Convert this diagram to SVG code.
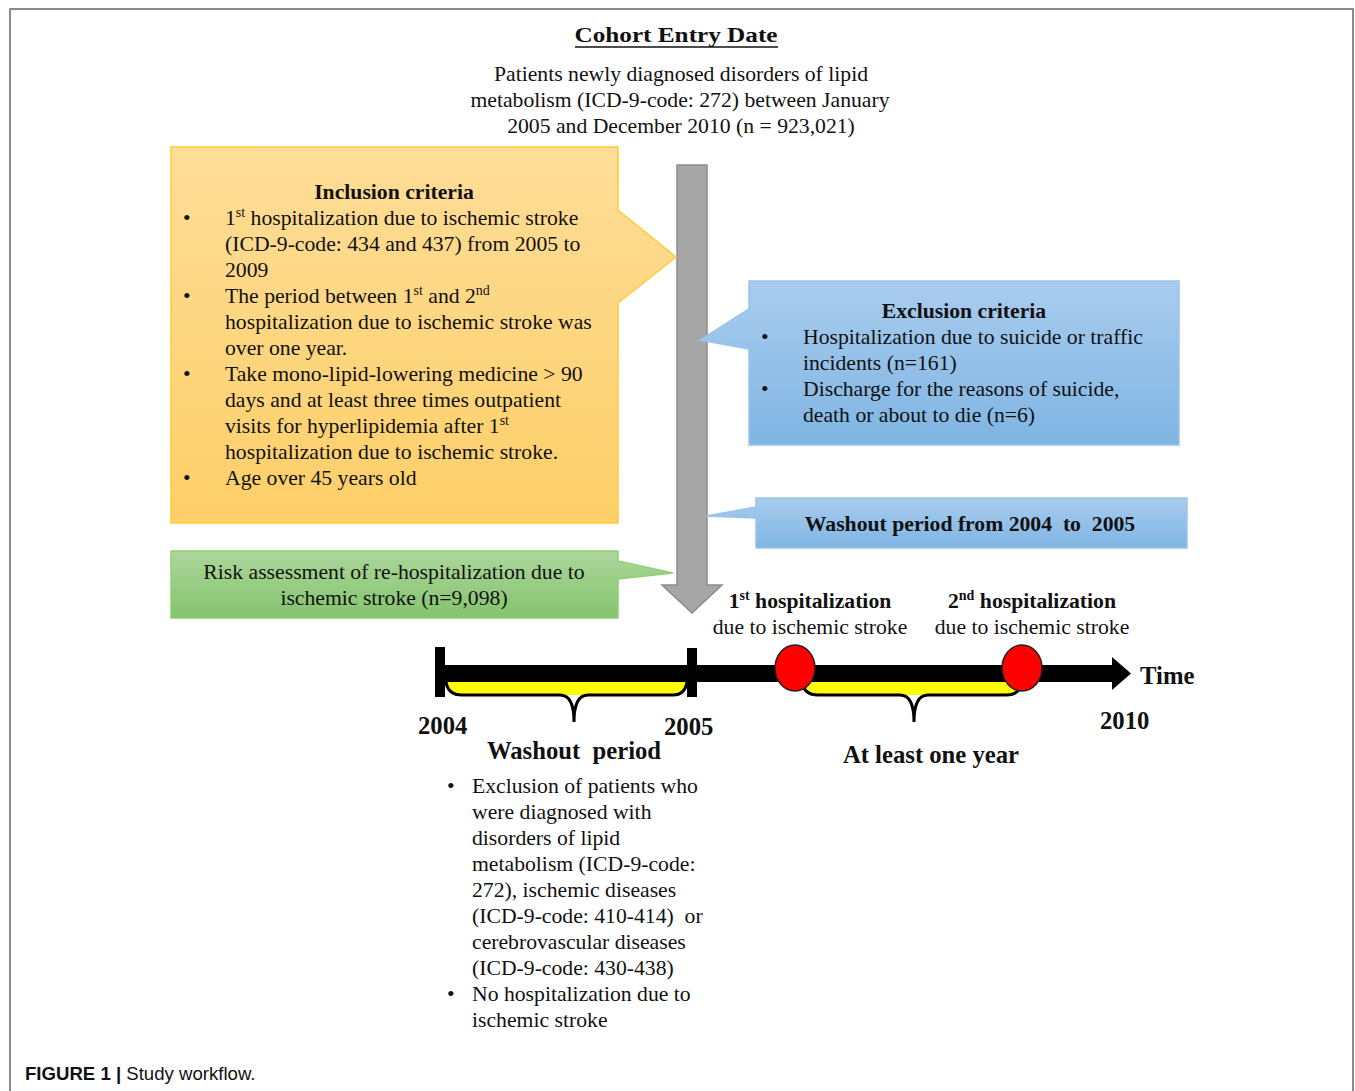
<svg xmlns="http://www.w3.org/2000/svg" width="1355" height="1091" viewBox="0 0 1355 1091">
<style>
text{font-family:"Liberation Serif","Times New Roman",serif;font-size:21.7px;fill:#111}
.b{font-weight:bold}
.c{text-anchor:middle}
.t{font-size:24.7px;font-weight:bold}
.sup{font-size:14px}
.cap{font-family:"Liberation Sans",Arial,sans-serif;font-size:18.6px}
</style>
<defs>
<linearGradient id="gO" x1="0" y1="0" x2="0" y2="1"><stop offset="0" stop-color="#fedd98"/><stop offset="1" stop-color="#fdcf68"/></linearGradient>
<linearGradient id="gB" x1="0" y1="0" x2="0" y2="1"><stop offset="0" stop-color="#a9ccee"/><stop offset="1" stop-color="#7fb5e3"/></linearGradient>
<linearGradient id="gG" x1="0" y1="0" x2="0" y2="1"><stop offset="0" stop-color="#acd69c"/><stop offset="1" stop-color="#84c46c"/></linearGradient>
</defs>
<rect width="1355" height="1091" fill="#ffffff"/>
<path d="M10,1091 V9 H1353 V1091" fill="none" stroke="#666" stroke-width="1.5"/>

<g id="title">
<text class="c b" x="676" y="42" font-size="26.5" textLength="203" lengthAdjust="spacingAndGlyphs">Cohort Entry Date</text>
<line x1="575" y1="47" x2="778" y2="47" stroke="#111" stroke-width="1.5"/>
<text class="c" x="681" y="81">Patients newly diagnosed disorders of lipid</text>
<text class="c" x="680" y="107">metabolism (ICD-9-code: 272) between January</text>
<text class="c" x="681" y="133">2005 and December 2010 (n = 923,021)</text>
</g>

<g id="connectors">
<path d="M677,165 H707 V585 H722 L692,613 L662,585 H677 Z" fill="#a6a6a6" stroke="#8c8c8c" stroke-width="1.5"/>
</g>

<g id="inclusion">
<path d="M171,147 H618 V210 L676,257 L618,303 V523 H171 Z" fill="url(#gO)" stroke="#ffcc33" stroke-width="1.5"/>
<text class="c b" x="394" y="199">Inclusion criteria</text>
<text x="183" y="225">•</text>
<text x="225" y="225">1<tspan class="sup" dy="-8">st</tspan><tspan dy="8"> hospitalization due to ischemic stroke</tspan></text>
<text x="225" y="251">(ICD-9-code: 434 and 437) from 2005 to</text>
<text x="225" y="277">2009</text>
<text x="183" y="303">•</text>
<text x="225" y="303">The period between 1<tspan class="sup" dy="-8">st</tspan><tspan dy="8"> and 2</tspan><tspan class="sup" dy="-8">nd</tspan></text>
<text x="225" y="329">hospitalization due to ischemic stroke was</text>
<text x="225" y="355">over one year.</text>
<text x="183" y="381">•</text>
<text x="225" y="381">Take mono-lipid-lowering medicine &gt; 90</text>
<text x="225" y="407">days and at least three times outpatient</text>
<text x="225" y="433">visits for hyperlipidemia after 1<tspan class="sup" dy="-8">st</tspan></text>
<text x="225" y="459">hospitalization due to ischemic stroke.</text>
<text x="183" y="485">•</text>
<text x="225" y="485">Age over 45 years old</text>
</g>

<g id="exclusion">
<path d="M749,281 H1179 V445 H749 V349 L700,340 L749,309 Z" fill="url(#gB)" stroke="#9cc3e8" stroke-width="1.5"/>
<text class="c b" x="964" y="318">Exclusion criteria</text>
<text x="761" y="344">•</text>
<text x="803" y="344">Hospitalization  due to suicide or traffic</text>
<text x="803" y="370">incidents (n=161)</text>
<text x="761" y="396">•</text>
<text x="803" y="396">Discharge for the reasons of suicide,</text>
<text x="803" y="422">death or about to die (n=6)</text>
</g>

<g id="washout-box">
<path d="M756,498 H1187 V548 H756 V518 L706,516 L756,507 Z" fill="url(#gB)" stroke="#9cc3e8" stroke-width="1.5"/>
<text class="c b" x="970" y="531" font-size="22.5" xml:space="preserve">Washout period from 2004  to  2005</text>
</g>

<g id="risk">
<path d="M171,551 H618 V561 L673,573 L618,579 V618 H171 Z" fill="url(#gG)" stroke="#90cf74" stroke-width="1.5"/>
<text class="c" x="394" y="579">Risk assessment of re-hospitalization due to</text>
<text class="c" x="394" y="605">ischemic stroke (n=9,098)</text>
</g>

<g id="timeline">
<path d="M446,682 Q448,695 462,695 H673 Q685,695 687,682 Z" fill="#ffff00"/>
<path d="M446,682 Q448,695 462,695 H560 Q574,695 574,722 M574,722 Q574,695 588,695 H673 Q685,695 687,682" fill="none" stroke="#000" stroke-width="3"/>
<path d="M802,682 Q804,695 818,695 H1006 Q1020,695 1022,682 Z" fill="#ffff00"/>
<path d="M802,682 Q804,695 818,695 H900 Q914,695 914,722 M914,722 Q914,695 928,695 H1006 Q1020,695 1022,682" fill="none" stroke="#000" stroke-width="3"/>
<rect x="440" y="665" width="674" height="17" fill="#000"/>
<path d="M1112,657 L1131,673.5 L1112,690 Z" fill="#000"/>
<rect x="435" y="647" width="10" height="50" fill="#000"/>
<rect x="687" y="648" width="10" height="49" fill="#000"/>
<ellipse cx="795" cy="668" rx="20" ry="23" fill="#ff0000" stroke="#222" stroke-width="1.5"/>
<ellipse cx="1022" cy="668" rx="20" ry="23" fill="#ff0000" stroke="#222" stroke-width="1.5"/>
<text class="t" x="418" y="734">2004</text>
<text class="t" x="664" y="735">2005</text>
<text class="t" x="1100" y="729">2010</text>
<text class="t" x="1140" y="684">Time</text>
<text class="t c" x="574" y="759" xml:space="preserve">Washout  period</text>
<text class="t c" x="931" y="763">At least one year</text>
<text class="c b" x="810" y="608">1<tspan class="sup" dy="-8">st</tspan><tspan dy="8"> hospitalization</tspan></text>
<text class="c" x="810" y="634">due to ischemic stroke</text>
<text class="c b" x="1032" y="608">2<tspan class="sup" dy="-8">nd</tspan><tspan dy="8"> hospitalization</tspan></text>
<text class="c" x="1032" y="634">due to ischemic stroke</text>
</g>

<g id="washout-notes">
<text x="447" y="793">•</text>
<text x="472" y="793">Exclusion of patients who</text>
<text x="472" y="819">were diagnosed with</text>
<text x="472" y="845">disorders of lipid</text>
<text x="472" y="871">metabolism (ICD-9-code:</text>
<text x="472" y="897">272), ischemic diseases</text>
<text x="472" y="923" xml:space="preserve">(ICD-9-code: 410-414)  or</text>
<text x="472" y="949">cerebrovascular diseases</text>
<text x="472" y="975">(ICD-9-code: 430-438)</text>
<text x="447" y="1001">•</text>
<text x="472" y="1001">No hospitalization due to</text>
<text x="472" y="1027">ischemic stroke</text>
</g>

<g id="caption">
<text class="cap" x="25" y="1080"><tspan font-weight="bold">FIGURE 1 |</tspan> Study workflow.</text>
</g>
</svg>
